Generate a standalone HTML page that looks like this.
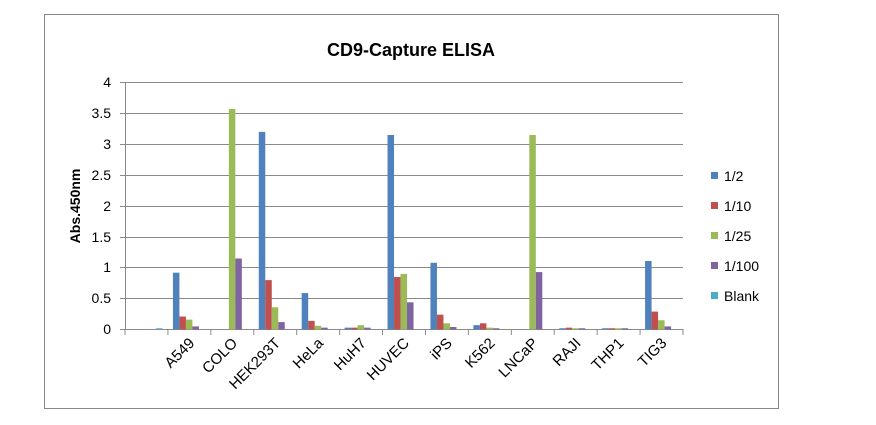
<!DOCTYPE html><html><head><style>body{margin:0;background:#fff}svg{display:block}text{font-family:"Liberation Sans",Calibri,sans-serif}</style></head><body>
<svg width="876" height="425" xmlns="http://www.w3.org/2000/svg">
<rect x="44.5" y="14.5" width="734" height="394" fill="#fff" stroke="#888" stroke-width="1"/>
<text x="411" y="56" font-size="18" font-weight="bold" text-anchor="middle" fill="#000">CD9-Capture ELISA</text>
<g stroke="#8a8a8a" stroke-width="1">
<line x1="120" y1="82.5" x2="683" y2="82.5"/><line x1="120" y1="144.5" x2="683" y2="144.5"/><line x1="120" y1="206.5" x2="683" y2="206.5"/><line x1="120" y1="267.5" x2="683" y2="267.5"/>
<line x1="120" y1="113.5" x2="683" y2="113.5"/><line x1="120" y1="175.5" x2="683" y2="175.5"/><line x1="120" y1="237.5" x2="683" y2="237.5"/><line x1="120" y1="298.5" x2="683" y2="298.5"/>
<line x1="120" y1="329.5" x2="683" y2="329.5"/>
<line x1="125.5" y1="82" x2="125.5" y2="330"/>
</g>
<g font-size="14" text-anchor="end" fill="#000">
<text x="111" y="87">4</text><text x="111" y="118">3.5</text><text x="111" y="149">3</text><text x="111" y="180">2.5</text><text x="111" y="211">2</text><text x="111" y="242">1.5</text><text x="111" y="272">1</text><text x="111" y="303">0.5</text><text x="111" y="334">0</text>
</g>
<text transform="translate(80,206) rotate(-90)" font-size="14" font-weight="bold" text-anchor="middle">Abs.450nm</text>
<g id="bars"></g>
<g id="ticks" stroke="#8a8a8a"></g>
<g id="labels" font-size="15"></g>
<g font-size="14">
<rect x="711" y="172" width="7" height="7" fill="#4F81BD"/><text x="724" y="181">1/2</text>
<rect x="711" y="202" width="7" height="7" fill="#C0504D"/><text x="724" y="211">1/10</text>
<rect x="711" y="232" width="7" height="7" fill="#9BBB59"/><text x="724" y="241">1/25</text>
<rect x="711" y="262" width="7" height="7" fill="#8064A2"/><text x="724" y="271">1/100</text>
<rect x="711" y="292" width="7" height="7" fill="#4BACC6"/><text x="724" y="301">Blank</text>
</g>
</svg>
<script>
var ns="http://www.w3.org/2000/svg";
var names=["","A549","COLO","HEK293T","HeLa","HuH7","HUVEC","iPS","K562","LNCaP","RAJI","THP1","TIG3"];
var d=[[0,0,0,0,0.02],[0.92,0.21,0.16,0.05,0],[0,0,3.57,1.15,0],[3.2,0.8,0.36,0.12,0],[0.59,0.14,0.06,0.03,0],[0.03,0.03,0.07,0.03,0],[3.15,0.85,0.9,0.44,0],[1.08,0.24,0.1,0.04,0],[0.07,0.1,0.03,0.02,0],[0,0,3.15,0.93,0],[0.02,0.03,0.02,0.02,0],[0.02,0.02,0.02,0.02,0],[1.11,0.29,0.15,0.05,0]];
var c=["#4F81BD","#C0504D","#9BBB59","#8064A2","#4BACC6"];
var w=(683-125)/13,bw=6.5;
var B=document.getElementById("bars"),T=document.getElementById("ticks"),L=document.getElementById("labels");
for(var i=0;i<13;i++){var x0=125+i*w;
for(var j=0;j<5;j++){var v=d[i][j];if(v<=0)continue;var h=v*61.75;var r=document.createElementNS(ns,"rect");
r.setAttribute("x",x0+5+j*bw);r.setAttribute("y",329.5-h);r.setAttribute("width",bw);r.setAttribute("height",h);r.setAttribute("fill",c[j]);B.appendChild(r);}
var t=document.createElementNS(ns,"line");t.setAttribute("x1",x0);t.setAttribute("x2",x0);t.setAttribute("y1",329);t.setAttribute("y2",335);T.appendChild(t);
if(names[i]){var tx=document.createElementNS(ns,"text");var cx=x0+w/2+6,cy=344;tx.setAttribute("x",cx);tx.setAttribute("y",cy);tx.setAttribute("text-anchor","end");tx.setAttribute("transform","rotate(-45 "+cx+" "+cy+")");tx.textContent=names[i];L.appendChild(tx);}}
var t=document.createElementNS(ns,"line");t.setAttribute("x1",683);t.setAttribute("x2",683);t.setAttribute("y1",329);t.setAttribute("y2",335);T.appendChild(t);
</script>
</body></html>
